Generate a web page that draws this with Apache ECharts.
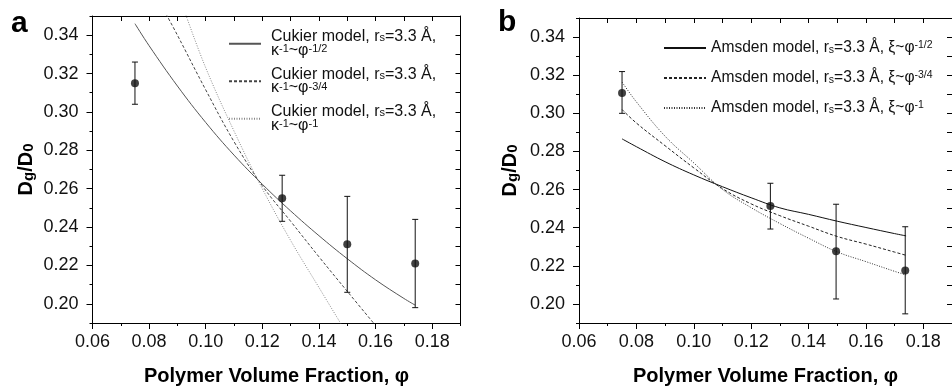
<!DOCTYPE html>
<html>
<head>
<meta charset="utf-8">
<script src="https://cdn.jsdelivr.net/npm/echarts@6/dist/echarts.min.js"></script>
<style>html,body{margin:0;padding:0;background:#fff}#c{width:952px;height:391px}</style>
</head>
<body>
<div id="c"></div>
<script>
// ---------- data ----------
const xTickLabels = ['0.06','0.08','0.10','0.12','0.14','0.16','0.18'];
const yTickLabels = ['0.20','0.22','0.24','0.26','0.28','0.30','0.32','0.34'];

// Panel a: measurements
const phiA = [0.075, 0.127, 0.150, 0.174];
const dA = [0.315, 0.255, 0.231, 0.221];
const dAlo = [0.304, 0.243, 0.206, 0.198];
const dAhi = [0.326, 0.267, 0.256, 0.244];
// Panel a: Cukier model curves
const phiCukHalf = [0.075,0.08,0.09,0.10,0.11,0.12,0.13,0.14,0.15,0.16,0.17,0.174];
const cukHalf    = [0.346,0.3345,0.3135,0.2945,0.2775,0.2623,0.2484,0.2355,0.2235,0.2125,0.2028,0.1993];
const phiCukThreeQ = [0.086,0.09,0.10,0.11,0.12,0.13,0.14,0.15,0.16];
const cukThreeQ    = [0.351,0.340,0.3115,0.2845,0.2615,0.243,0.2245,0.2065,0.1887];
const phiCukOne = [0.093,0.10,0.11,0.12,0.13,0.14,0.148];
const cukOne    = [0.3505,0.323,0.290,0.260,0.233,0.2085,0.189];

// Panel b: measurements
const phiB = [0.075, 0.1267, 0.1496, 0.1737];
const dB = [0.3107, 0.2514, 0.2276, 0.2176];
const dBlo = [0.300, 0.2393, 0.2026, 0.1948];
const dBhi = [0.3219, 0.2633, 0.2523, 0.2405];
// Panel b: Amsden model curves
const phiAms = [0.075,0.08,0.09,0.10,0.11,0.12,0.13,0.14,0.15,0.16,0.17,0.174];
const amsHalf   = [0.2866,0.2825,0.2746,0.2677,0.2615,0.2557,0.2504,0.247,0.2434,0.2401,0.2369,0.2357];
const amsThreeQ = [0.302,0.2949,0.2830,0.2714,0.2605,0.2525,0.2463,0.2408,0.2354,0.2314,0.2272,0.2255];
const amsOne    = [0.3164,0.306,0.288,0.274,0.2601,0.2505,0.2422,0.2345,0.2273,0.2222,0.2171,0.2152];

const namesA = ['Cukier model, rs=3.3 Å, κ-1~φ-1/2','Cukier model, rs=3.3 Å, κ-1~φ-3/4','Cukier model, rs=3.3 Å, κ-1~φ-1'];
const namesB = ['Amsden model, rs=3.3 Å, ξ~φ-1/2','Amsden model, rs=3.3 Å, ξ~φ-3/4','Amsden model, rs=3.3 Å, ξ~φ-1'];
const expA = ['-1/2','-3/4','-1'];
const expB = ['-1/2','-3/4','-1'];

// ---------- helpers ----------
const FONT = 'Liberation Sans, Arial, Helvetica, sans-serif';
const pair = (xs, ys) => xs.map((x, i) => [x, ys[i]]);
const bars = (xs, lo, hi) => xs.map((x, i) => [x, lo[i], hi[i]]);

const legendFmt = {};
namesA.forEach((n, i) => {
  legendFmt[n] = '{n|Cukier model, r}{sub|s}{n|=3.3 Å,}\n{n|κ}{sup|-1}{n|~φ}{sup|' + expA[i] + '}';
});
namesB.forEach((n, i) => {
  legendFmt[n] = '{n|Amsden model, r}{sub|s}{n|=3.3 Å, ξ~φ}{sup|' + expB[i] + '}';
});

const richLegend = {
  n:   {fontSize: 16, fontFamily: FONT, color: '#111', lineHeight: 13.5, verticalAlign: 'middle'},
  sub: {fontSize: 11, fontFamily: FONT, color: '#111', lineHeight: 4, verticalAlign: 'bottom'},
  sup: {fontSize: 11, fontFamily: FONT, color: '#111', lineHeight: 4, verticalAlign: 'top'}
};
const richLegendB = {
  n:   {fontSize: 15.6, fontFamily: FONT, color: '#111', lineHeight: 16, verticalAlign: 'middle'},
  sub: {fontSize: 10.5, fontFamily: FONT, color: '#111', lineHeight: 6, verticalAlign: 'bottom'},
  sup: {fontSize: 10.5, fontFamily: FONT, color: '#111', lineHeight: 6, verticalAlign: 'top'}
};
const richName = {
  b:  {fontSize: 20, fontWeight: 'bold', fontFamily: FONT, color: '#000', lineHeight: 20, verticalAlign: 'middle'},
  bs: {fontSize: 15, fontWeight: 'bold', fontFamily: FONT, color: '#000', lineHeight: 6, verticalAlign: 'bottom'}
};

const lbl = (list) => (v) => { const s = v.toFixed(2); return list.includes(s) ? s : ''; };

function xAxes(g) {
  return [
    { // bottom major
      type: 'value', gridIndex: g, position: 'bottom', min: 0.06, max: 0.19, interval: 0.02,
      axisLine: {show: true, onZero: false, lineStyle: {color: '#000', width: 1}},
      axisTick: {show: true, length: 6, lineStyle: {color: '#000'}},
      axisLabel: {show: true, margin: 10, fontSize: 18, fontFamily: FONT, color: '#111', showMaxLabel: false, formatter: lbl(xTickLabels)},
      splitLine: {show: false},
      name: 'Polymer Volume Fraction, φ', nameLocation: 'middle', nameGap: 43,
      nameTextStyle: {fontSize: 20, fontWeight: 'bold', fontFamily: FONT, color: '#000'}
    },
    { // bottom minor
      type: 'value', gridIndex: g, position: 'bottom', min: 0.06, max: 0.19, interval: 0.01,
      axisLine: {show: false, onZero: false}, axisTick: {show: true, length: 3, lineStyle: {color: '#000'}},
      axisLabel: {show: false}, splitLine: {show: false}
    },
    { // top frame
      type: 'value', gridIndex: g, position: 'top', min: 0.06, max: 0.19, interval: 0.01,
      axisLine: {show: true, onZero: false, lineStyle: {color: '#000', width: 1}},
      axisTick: {show: true, inside: true, length: 5, lineStyle: {color: '#000'}},
      axisLabel: {show: false}, splitLine: {show: false}
    }
  ];
}
function yAxes(g, gap) {
  return [
    { // left major
      type: 'value', gridIndex: g, position: 'left', min: 0.19, max: 0.35, splitNumber: 8,
      axisLine: {show: true, onZero: false, lineStyle: {color: '#000', width: 1}},
      axisTick: {show: true, length: 6, lineStyle: {color: '#000'}},
      axisLabel: {show: true, margin: 14, fontSize: 18, fontFamily: FONT, color: '#111', showMinLabel: false, showMaxLabel: false, formatter: lbl(yTickLabels)},
      splitLine: {show: false},
      name: '{b|D}{bs|g}{b|/D}{bs|0}', nameLocation: 'middle', nameGap: gap, nameRotate: 90,
      nameTextStyle: {rich: richName}
    },
    { // left minor
      type: 'value', gridIndex: g, position: 'left', min: 0.19, max: 0.35, interval: 0.01,
      axisLine: {show: false, onZero: false}, axisTick: {show: true, length: 3, lineStyle: {color: '#000'}},
      axisLabel: {show: false}, splitLine: {show: false}
    },
    { // right frame
      type: 'value', gridIndex: g, position: 'right', min: 0.19, max: 0.35, interval: 0.01,
      axisLine: {show: true, onZero: false, lineStyle: {color: '#000', width: 1}},
      axisTick: {show: true, inside: true, length: 5, lineStyle: {color: '#000'}},
      axisLabel: {show: false}, splitLine: {show: false}
    }
  ];
}

function curve(name, data, xi, yi, color, type) {
  return {
    type: 'line', name: name, xAxisIndex: xi, yAxisIndex: yi, data: data,
    symbol: 'none', smooth: 0.4, clip: true, silent: true,
    lineStyle: {color: color, width: 1, type: type}, itemStyle: {color: color}
  };
}
function points(data, xi, yi) {
  return {
    type: 'scatter', xAxisIndex: xi, yAxisIndex: yi, data: data,
    symbol: 'circle', symbolSize: 8, itemStyle: {color: '#111'}, z: 5, silent: true
  };
}
function errorBars(data, xi, yi) {
  return {
    type: 'custom', xAxisIndex: xi, yAxisIndex: yi, data: data, z: 4, silent: true,
    encode: {x: 0, y: [1, 2]},
    renderItem: function (params, api) {
      const x = api.value(0);
      const lo = api.coord([x, api.value(1)]);
      const hi = api.coord([x, api.value(2)]);
      const w = 3;
      const st = {stroke: '#111', lineWidth: 1};
      return {type: 'group', children: [
        {type: 'line', shape: {x1: lo[0], y1: lo[1], x2: hi[0], y2: hi[1]}, style: st},
        {type: 'line', shape: {x1: lo[0] - w, y1: lo[1], x2: lo[0] + w, y2: lo[1]}, style: st},
        {type: 'line', shape: {x1: hi[0] - w, y1: hi[1], x2: hi[0] + w, y2: hi[1]}, style: st}
      ]};
    }
  };
}

const legendIconStyle = {color: 'rgba(0,0,0,0)', borderWidth: 0, borderColor: 'rgba(0,0,0,0)'};

const option = {
  animation: false,
  backgroundColor: '#fff',
  title: [
    {text: 'a', left: 11, top: 9, padding: 0, textStyle: {fontSize: 30, fontWeight: 'bold', fontFamily: FONT, color: '#000'}},
    {text: 'b', left: 498, top: 8, padding: 0, textStyle: {fontSize: 30, fontWeight: 'bold', fontFamily: FONT, color: '#000'}}
  ],
  grid: [
    {left: 92.5, top: 16, width: 368, height: 311.5},
    {left: 579, top: 18, width: 380.25, height: 309.5}
  ],
  xAxis: xAxes(0).concat(xAxes(1)),
  yAxis: yAxes(0, 56).concat(yAxes(1, 59)),
  legend: [
    {
      left: 228, top: 29, padding: 0, orient: 'vertical', itemWidth: 32, itemHeight: 14, itemGap: 8,
      selectedMode: false, data: namesA, formatter: (n) => legendFmt[n],
      itemStyle: legendIconStyle,
      textStyle: {rich: richLegend, padding: [0, 0, 0, 5]}
    },
    {
      left: 663, top: 40, padding: 0, orient: 'vertical', itemWidth: 42, itemHeight: 14, itemGap: 14,
      selectedMode: false, data: namesB, formatter: (n) => legendFmt[n],
      itemStyle: legendIconStyle,
      textStyle: {rich: richLegendB}
    }
  ],
  series: [
    curve(namesA[0], pair(phiCukHalf, cukHalf), 0, 0, '#555', 'solid'),
    curve(namesA[1], pair(phiCukThreeQ, cukThreeQ), 0, 0, '#444', [3, 2]),
    curve(namesA[2], pair(phiCukOne, cukOne), 0, 0, '#888', [1, 1.5]),
    errorBars(bars(phiA, dAlo, dAhi), 0, 0),
    points(pair(phiA, dA), 0, 0),
    curve(namesB[0], pair(phiAms, amsHalf), 3, 3, '#111', 'solid'),
    curve(namesB[1], pair(phiAms, amsThreeQ), 3, 3, '#222', [3, 2]),
    curve(namesB[2], pair(phiAms, amsOne), 3, 3, '#333', [1, 1.5]),
    errorBars(bars(phiB, dBlo, dBhi), 3, 3),
    points(pair(phiB, dB), 3, 3)
  ]
};

const chart = echarts.init(document.getElementById('c'), null, {renderer: 'canvas'});
chart.setOption(option);
</script>
</body>
</html>
